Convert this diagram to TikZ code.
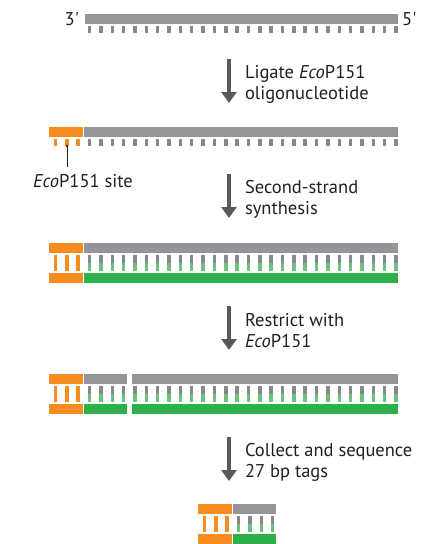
\documentclass[tikz,border=0pt]{standalone}
\usepackage{fontspec}
\setmainfont{PT Sans}
\usetikzlibrary{arrows.meta}
\definecolor{dnagray}{HTML}{939598}
\definecolor{tickgray}{HTML}{86888B}
\definecolor{dnaorange}{HTML}{F68B1F}
\definecolor{dnagreen}{HTML}{2BB04A}
\definecolor{tickgreen}{HTML}{6CC27A}
\definecolor{arrowgray}{HTML}{58595B}
\definecolor{txt}{HTML}{231F20}
\begin{document}
\begin{tikzpicture}[x=1pt,y=-1pt,
	strandg/.style={ fill=dnagray, draw=white, very thin },
	strando/.style={ fill=dnaorange, draw=white, very thin },
	strandgr/.style={ fill=dnagreen, draw=white, very thin },
	tickg/.style={ fill=tickgray },
	ticko/.style={ fill=dnaorange },
	tickgr/.style={ fill=tickgreen },
	steparrow/.style={ draw=arrowgray, line width=4pt, -{Triangle[width=15pt,length=11pt]} },
	steptext/.style={ anchor=west, xshift=14pt, yshift=-3pt, align=left, text=txt, inner sep=0pt, font=\fontsize{18.5}{21}\selectfont },
	endtext/.style={ text=txt, inner sep=0pt, font=\fontsize{18.5}{21}\selectfont }
]
\useasboundingbox (0,0) rectangle (434,544);

% single strand
\node at (79,19) (p3) [endtext,anchor=east] {3\textquotesingle};
\node at (402,19) (p5) [endtext,anchor=west] {5\textquotesingle};
\fill[strandg] (84,13) rectangle (398,24);
\foreach \i in {3,...,30} \fill[tickg] ({55.5+11.35*\i-1.75},26) rectangle +(3.5,7);

\coordinate (a1s) at (229,59);
\coordinate (a1e) at (229,103);
\draw[steparrow] (a1s) -- node[steptext] {Ligate \textit{Eco}P151\\oligonucleotide} (a1e);

% strand with EcoP151 oligonucleotide
\fill[strando] (48,126) rectangle (83,137);
\fill[strandg] (83,126) rectangle (398,137);
\foreach \i in {0,1,2} \fill[ticko] ({55.5+11.35*\i-1.75},139) rectangle +(3.5,7);
\foreach \i in {3,...,30} \fill[tickg] ({55.5+11.35*\i-1.75},139) rectangle +(3.5,7);
\coordinate (site) at (66.85,146);
\node at (33,187) (sitelab) [endtext,anchor=base west] {\textit{Eco}P151 site};
\fill[txt] (site) circle (1.3);
\draw[txt, thin, shorten >=7pt] (site) -- (site |- sitelab.north);

\coordinate (a2s) at (229,174);
\coordinate (a2e) at (229,218);
\draw[steparrow] (a2s) -- node[steptext] {Second-strand\\synthesis} (a2e);

% double strand
\fill[strando] (48,242) rectangle (83,253);
\fill[strandg] (83,242) rectangle (398,253);
\foreach \i in {0,1,2} {
	\fill[ticko] ({55.5+11.35*\i-1.75},255) rectangle +(3.5,7.7);
	\fill[ticko] ({55.5+11.35*\i-1.75},263.3) rectangle +(3.5,7.7);
}
\foreach \i in {3,...,30} {
	\fill[tickg] ({55.5+11.35*\i-1.75},255) rectangle +(3.5,7.7);
	\fill[tickgr] ({55.5+11.35*\i-1.75},263.3) rectangle +(3.5,7.7);
}
\fill[strando] (48,272) rectangle (83,283);
\fill[strandgr] (83,272) rectangle (398,283);

\coordinate (a3s) at (229,306);
\coordinate (a3e) at (229,350);
\draw[steparrow] (a3s) -- node[steptext] {Restrict with\\\textit{Eco}P151} (a3e);

% cut double strand
\fill[strando] (48,373) rectangle (83,384);
\fill[strandg] (83,373) rectangle (127,384);
\fill[strandg] (131,373) rectangle (398,384);
\foreach \i in {0,1,2} {
	\fill[ticko] ({55.5+11.35*\i-1.75},386) rectangle +(3.5,7.7);
	\fill[ticko] ({55.5+11.35*\i-1.75},394.3) rectangle +(3.5,7.7);
}
\foreach \i in {3,...,30} {
	\fill[tickg] ({55.5+11.35*\i-1.75},386) rectangle +(3.5,7.7);
	\fill[tickgr] ({55.5+11.35*\i-1.75},394.3) rectangle +(3.5,7.7);
}
\fill[strando] (48,403) rectangle (83,414);
\fill[strandgr] (83,403) rectangle (127,414);
\fill[strandgr] (131,403) rectangle (398,414);

\coordinate (a4s) at (229,437);
\coordinate (a4e) at (229,481);
\draw[steparrow] (a4s) -- node[steptext] {Collect and sequence\\27 bp tags} (a4e);

% 27 bp tag
\fill[strando] (197,503) rectangle (232,514);
\fill[strandg] (232,503) rectangle (276,514);
\foreach \i in {0,1,2} {
	\fill[ticko] ({204.5+11.35*\i-1.75},516) rectangle +(3.5,7.7);
	\fill[ticko] ({204.5+11.35*\i-1.75},524.3) rectangle +(3.5,7.7);
}
\foreach \i in {3,...,6} {
	\fill[tickg] ({204.5+11.35*\i-1.75},516) rectangle +(3.5,7.7);
	\fill[tickgr] ({204.5+11.35*\i-1.75},524.3) rectangle +(3.5,7.7);
}
\fill[strando] (197,533) rectangle (232,544);
\fill[strandgr] (232,533) rectangle (276,544);

\end{tikzpicture}
\end{document}
